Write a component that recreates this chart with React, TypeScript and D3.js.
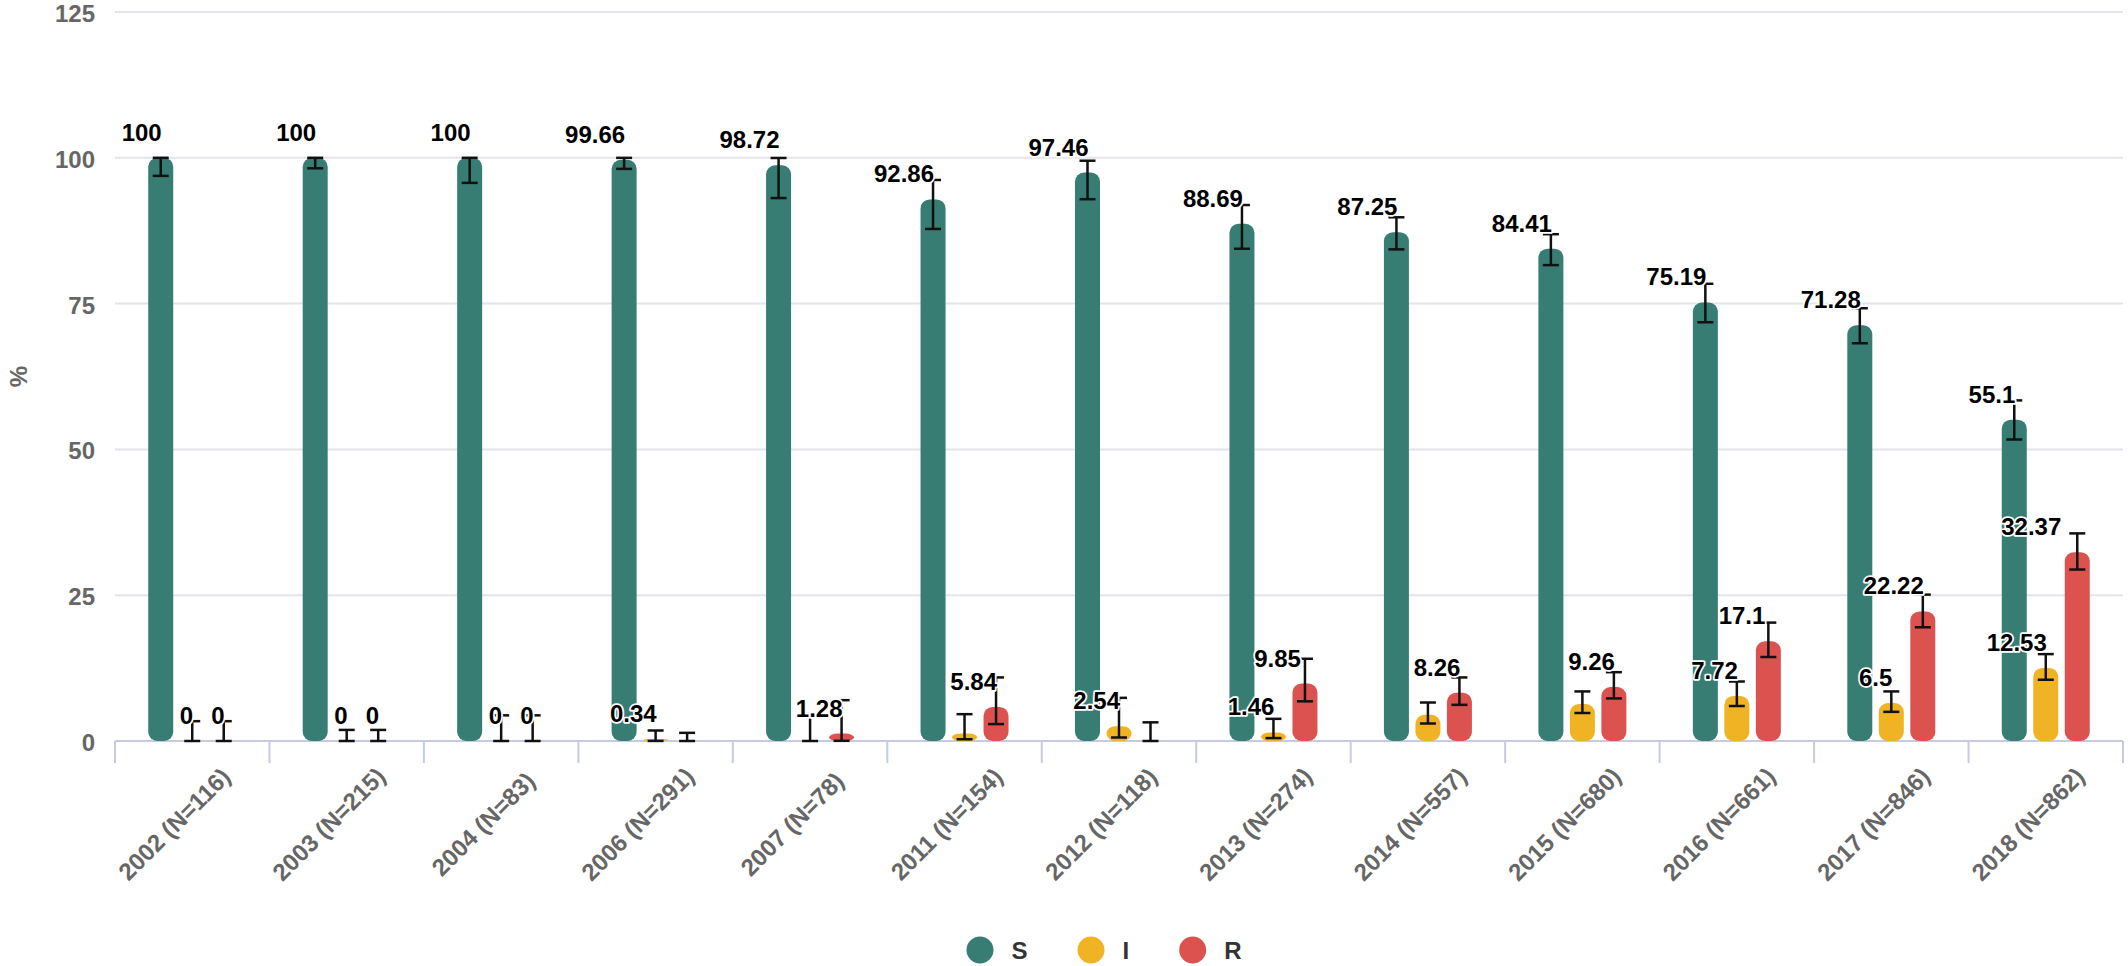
import { useRef, useEffect } from 'react'
import * as d3 from 'd3'

const categories = [
  '2002 (N=116)', '2003 (N=215)', '2004 (N=83)', '2006 (N=291)', '2007 (N=78)',
  '2011 (N=154)', '2012 (N=118)', '2013 (N=274)', '2014 (N=557)', '2015 (N=680)',
  '2016 (N=661)', '2017 (N=846)', '2018 (N=862)',
]
const seriesNames = ['S', 'I', 'R']
const colors = ['#377d74', '#efb324', '#dc524f']

// percentages (null = no value / no label)
const sValues = [100, 100, 100, 99.66, 98.72, 92.86, 97.46, 88.69, 87.25, 84.41, 75.19, 71.28, 55.1]
const iValues = [0, 0, 0, 0.34, 0, 1.3, 2.54, 1.46, 4.49, 6.33, 7.72, 6.5, 12.53]
const rValues = [0, 0, 0, null, 1.28, 5.84, null, 9.85, 8.26, 9.26, 17.1, 22.22, 32.37]

// error bars (lower / upper)
const sLow = [96.9, 98.2, 95.7, 98.1, 93.1, 87.8, 92.9, 84.4, 84.3, 81.6, 71.8, 68.2, 51.7]
const sHigh = [100, 100, 100, 99.99, 99.97, 96.2, 99.5, 91.9, 89.8, 86.9, 78.4, 74.2, 58.4]
const iLow = [0, 0, 0, 0.01, 0, 0.3, 0.6, 0.5, 3.0, 4.8, 6.0, 5.0, 10.5]
const iHigh = [3.4, 1.9, 4.4, 1.8, 4.6, 4.6, 7.4, 3.8, 6.6, 8.5, 10.2, 8.5, 14.9]
const rLow = [0, 0, 0, 0, 0.03, 2.9, 0, 6.8, 6.2, 7.3, 14.4, 19.5, 29.4]
const rHigh = [3.4, 1.9, 4.4, 1.4, 7.0, 10.9, 3.2, 14.1, 10.9, 11.8, 20.3, 25.1, 35.6]

const yTicks = [0, 25, 50, 75, 100, 125]

const FONT = '"Liberation Sans", Arial, Helvetica, sans-serif'

const App = () => {
  const ref = useRef<SVGSVGElement>(null)

  useEffect(() => {
    if (!ref.current) return
    const width = 2128
    const height = 966
    const left = 115
    const right = 2123
    const barWidth = 25

    const svg = d3.select(ref.current)
    svg.selectAll('*').remove()
    svg.attr('width', width).attr('height', height)

    const x = d3.scaleBand<string>().domain(categories).range([left, right])
    const xs = d3.scalePoint<string>().domain(seriesNames).range([-31.5, 31.5])
    const y = d3.scaleLinear().domain([0, 125]).range([741, 12])

    const values = [sValues, iValues, rValues]
    const lows = [sLow, iLow, rLow]
    const highs = [sHigh, iHigh, rHigh]

    // grid
    svg.append('g')
      .selectAll('line')
      .data(yTicks.filter((t) => t > 0))
      .enter()
      .append('line')
      .attr('x1', left)
      .attr('x2', right)
      .attr('y1', (d) => y(d))
      .attr('y2', (d) => y(d))
      .attr('stroke', '#e4e4ea')
      .attr('stroke-width', 2)

    // y labels
    svg.append('g')
      .selectAll('text')
      .data(yTicks)
      .enter()
      .append('text')
      .attr('x', 95)
      .attr('y', (d) => y(d) + 1.5)
      .attr('text-anchor', 'end')
      .attr('dominant-baseline', 'central')
      .attr('font-family', FONT)
      .attr('font-weight', 'bold')
      .attr('font-size', 24)
      .attr('fill', '#666')
      .text((d) => d)

    svg.append('text')
      .attr('transform', `translate(18,${(y(0) + y(125)) / 2}) rotate(-90)`)
      .attr('text-anchor', 'middle')
      .attr('dominant-baseline', 'central')
      .attr('font-family', FONT)
      .attr('font-weight', 'bold')
      .attr('font-size', 24)
      .attr('fill', '#666')
      .text('%')

    // x axis line + ticks
    const axis = svg.append('g')
    axis.append('line')
      .attr('x1', left)
      .attr('x2', right)
      .attr('y1', y(0))
      .attr('y2', y(0))
      .attr('stroke', '#c6cbe2')
      .attr('stroke-width', 2)
    const bounds = categories.map((c) => x(c)!).concat([right])
    axis.selectAll('line.tick')
      .data(bounds)
      .enter()
      .append('line')
      .attr('class', 'tick')
      .attr('x1', (d) => d)
      .attr('x2', (d) => d)
      .attr('y1', y(0))
      .attr('y2', y(0) + 22)
      .attr('stroke', '#c6cbe2')
      .attr('stroke-width', 2)

    axis.selectAll('text')
      .data(categories)
      .enter()
      .append('text')
      .attr('transform', (d) => `translate(${x(d)! + x.bandwidth() / 2 - 18},824) rotate(-45)`)
      .attr('text-anchor', 'middle')
      .attr('dominant-baseline', 'central')
      .attr('font-family', FONT)
      .attr('font-weight', 'bold')
      .attr('font-size', 24)
      .attr('fill', '#666')
      .text((d) => d)

    // bars
    const bars = svg.append('g')
    seriesNames.forEach((s, si) => {
      categories.forEach((c, ci) => {
        const v = values[si][ci]
        if (v == null || v <= 0) return
        const cx = x(c)! + x.bandwidth() / 2 + xs(s)!
        const h = y(0) - y(v)
        bars.append('rect')
          .attr('x', cx - barWidth / 2)
          .attr('y', y(v))
          .attr('width', barWidth)
          .attr('height', h)
          .attr('rx', Math.min(9, barWidth / 2))
          .attr('ry', Math.min(9, h / 2))
          .attr('fill', colors[si])
      })
    })

    // error bars
    const err = svg.append('g').attr('stroke', '#111').attr('stroke-width', 2.5)
    seriesNames.forEach((s, si) => {
      categories.forEach((c, ci) => {
        const cx = x(c)! + x.bandwidth() / 2 + xs(s)!
        const lo = y(lows[si][ci])
        const hi = y(highs[si][ci])
        err.append('line').attr('x1', cx).attr('x2', cx).attr('y1', lo).attr('y2', hi)
        err.append('line').attr('x1', cx - 8).attr('x2', cx + 8).attr('y1', hi).attr('y2', hi)
        err.append('line').attr('x1', cx - 8).attr('x2', cx + 8).attr('y1', lo).attr('y2', lo)
      })
    })

    // value labels, larger values first, overlapping ones hidden
    const labelShift: Record<string, number> = { 'R-12': -17, 'R-7': -5, 'R-10': -4 }
    const items: { v: number; cx: number; key: string }[] = []
    seriesNames.forEach((s, si) => {
      categories.forEach((c, ci) => {
        const v = values[si][ci]
        if (v == null) return
        items.push({ v, cx: x(c)! + x.bandwidth() / 2 + xs(s)!, key: `${s}-${ci}` })
      })
    })
    items.sort((a, b) => b.v - a.v)
    const labels = svg.append('g')
    const placed: DOMRect[] = []
    items.forEach((it) => {
      const t = labels.append('text')
        .attr('x', it.cx + 1 + (labelShift[it.key] || 0))
        .attr('y', y(it.v) - 17)
        .attr('text-anchor', 'end')
        .attr('font-family', FONT)
        .attr('font-weight', 'bold')
        .attr('font-size', 24)
        .attr('fill', '#000')
        .attr('stroke', '#fff')
        .attr('stroke-width', 3.5)
        .attr('stroke-linejoin', 'round')
        .attr('paint-order', 'stroke')
        .text(String(it.v))
      const b = (t.node() as SVGTextElement).getBBox()
      const hit = placed.some((p) =>
        b.x < p.x + p.width && b.x + b.width > p.x && b.y < p.y + p.height && b.y + b.height > p.y)
      if (hit) t.remove()
      else placed.push(b)
    })

    // legend
    const legend = svg.append('g')
    let lx = 0
    seriesNames.forEach((s, si) => {
      const item = legend.append('g').attr('transform', `translate(${lx},0)`)
      item.append('circle').attr('cx', 13.5).attr('cy', 0).attr('r', 13.5).attr('fill', colors[si])
      const t = item.append('text')
        .attr('x', 45)
        .attr('y', 0)
        .attr('dominant-baseline', 'central')
        .attr('font-family', FONT)
        .attr('font-weight', 'bold')
        .attr('font-size', 24)
        .attr('fill', '#333')
        .text(s)
      lx += 45 + (t.node() as SVGTextElement).getComputedTextLength() + 50
    })
    const legendWidth = lx - 50
    legend.attr('transform', `translate(${1104 - legendWidth / 2},950)`)
  }, [])

  return (
    <div>
      <svg ref={ref} style={{ position: 'absolute', left: 0, top: 0, background: '#fff' }} />
    </div>
  )
}

export default App
